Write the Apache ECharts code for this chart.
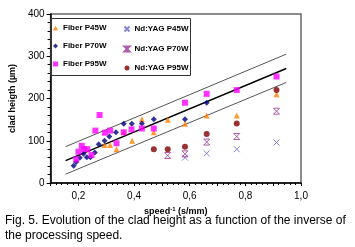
<!DOCTYPE html>
<html><head><meta charset="utf-8">
<script src="https://cdn.jsdelivr.net/npm/echarts@6/dist/echarts.min.js"></script>
<style>html,body{margin:0;padding:0;background:#fff}#c{width:355px;height:247px}</style>
</head><body><div id="c"></div>
<script>
const xTicks = [0.2, 0.4, 0.6, 0.8, 1.0];
const yTicks = [0, 100, 200, 300, 400];

const fiber45X = [0.294, 0.314, 0.337, 0.363, 0.393, 0.428, 0.471, 0.521, 0.583, 0.661, 0.769, 0.912];
const fiber45Y = [90, 90, 80, 121, 100, 151, 120, 150, 140, 160, 160, 210];

const fiber70X = [0.183, 0.192, 0.205, 0.218, 0.23, 0.243, 0.259, 0.273, 0.294, 0.311, 0.335, 0.363, 0.392, 0.428, 0.471, 0.583, 0.661];
const fiber70Y = [41, 50, 60, 69, 61, 61, 72, 92, 100, 110, 120, 140, 140, 141, 151, 151, 190];

const fiber95X = [0.192, 0.2, 0.212, 0.22, 0.232, 0.247, 0.261, 0.276, 0.295, 0.314, 0.337, 0.363, 0.391, 0.428, 0.471, 0.583, 0.661, 0.769, 0.912];
const fiber95Y = [56, 74, 88, 80, 80, 66, 124, 161, 119, 124, 94, 120, 127, 129, 129, 190, 211, 220, 252];

const yag45X = [0.583, 0.661, 0.769, 0.912];
const yag45Y = [60, 70, 80, 96];

const yag70X = [0.521, 0.583, 0.661, 0.769, 0.912];
const yag70Y = [65, 69, 97, 110, 170];

const yag95X = [0.471, 0.521, 0.583, 0.661, 0.769, 0.912];
const yag95Y = [80, 80, 86, 116, 141, 220];

const fitX = [0.154, 0.947];
const fitMid = [53, 271];
const fitUp = [86, 305];
const fitLow = [21, 238];

const pairs = (xs, ys) => xs.map((x, i) => [x, ys[i]]);

const XSYM = 'path://M0,0L10,10M10,0L0,10';
const HSYM = 'path://M0,0L10,0L0,10L10,10Z';

const chart = echarts.init(document.getElementById('c'));
const font = 'Liberation Sans, Arial, sans-serif';
const legendText = {fontFamily: font, fontSize: 8, fontWeight: 'bold', color: '#000'};
chart.setOption({
  animation: false,
  grid: {left: 43, right: 54, top: 14, bottom: 64, show: true, borderColor: '#666', borderWidth: 1.5},
  legend: [
    {data: ['Fiber P45W', 'Fiber P70W', 'Fiber P95W'], orient: 'vertical', left: 48, top: 19,
     itemWidth: 5, itemHeight: 5, itemGap: 10, textStyle: legendText},
    {data: ['Nd:YAG P45W', 'Nd:YAG P70W', 'Nd:YAG P95W'], orient: 'vertical', left: 117, top: 19,
     itemWidth: 5, itemHeight: 5, itemGap: 10, textStyle: legendText}
  ],
  graphic: [
    {type: 'rect', left: 48, top: 16, shape: {width: 140, height: 57}, style: {fill: 'none', stroke: '#333', lineWidth: 1}, z: 1},
    {type: 'text', left: 5, top: 215, style: {text: 'Fig. 5. Evolution of the clad height as a function of the inverse of', font: '12px ' + font, fill: '#000'}},
    {type: 'text', left: 5, top: 230, style: {text: 'the processing speed.', font: '12px ' + font, fill: '#000'}}
  ],
  xAxis: {
    type: 'value', min: 0.1, max: 1.0, interval: 0.1,
    name: 'speed{sup|-1} (s/mm)', nameLocation: 'middle', nameGap: 19,
    nameTextStyle: {fontFamily: font, fontSize: 9, fontWeight: 'bold', color: '#000',
      rich: {sup: {fontSize: 6, fontWeight: 'bold', verticalAlign: 'top', padding: [0, 0, 5, 0]}}},
    axisLine: {lineStyle: {color: '#000', width: 1.5}},
    axisTick: {show: true, length: 3, lineStyle: {color: '#000'}},
    minorTick: {show: true, splitNumber: 5, length: 2, lineStyle: {color: '#000'}},
    splitLine: {show: false},
    axisLabel: {fontFamily: font, fontSize: 10, color: '#000', margin: 8,
      formatter: v => xTicks.some(t => Math.abs(t - v) < 1e-6) ? v.toFixed(1).replace('.', ',') : ''}
  },
  yAxis: {
    type: 'value', min: 0, max: 400, interval: 100,
    name: 'clad heigth (µm)', nameLocation: 'middle', nameGap: 25,
    nameTextStyle: {fontFamily: font, fontSize: 9, fontWeight: 'bold', color: '#000'},
    axisLine: {show: true, lineStyle: {color: '#000', width: 1.5}},
    axisTick: {show: true, length: 4, lineStyle: {color: '#000'}},
    minorTick: {show: true, splitNumber: 5, length: 3, lineStyle: {color: '#000'}},
    splitLine: {show: false},
    axisLabel: {fontFamily: font, fontSize: 10, color: '#000', margin: 6,
      formatter: v => yTicks.includes(v) ? String(v) : ''}
  },
  series: [
    {type: 'line', data: pairs(fitX, fitUp), symbol: 'none', lineStyle: {color: '#555', width: 1}, z: 1, silent: true},
    {type: 'line', data: pairs(fitX, fitMid), symbol: 'none', lineStyle: {color: '#000', width: 1.5}, z: 1, silent: true},
    {type: 'line', data: pairs(fitX, fitLow), symbol: 'none', lineStyle: {color: '#555', width: 1}, z: 1, silent: true},
    {name: 'Fiber P45W', type: 'scatter', data: pairs(fiber45X, fiber45Y), symbol: 'triangle', symbolSize: 6, itemStyle: {color: '#ff8000'}},
    {name: 'Fiber P70W', type: 'scatter', data: pairs(fiber70X, fiber70Y), symbol: 'diamond', symbolSize: 6, itemStyle: {color: '#000080'}},
    {name: 'Fiber P95W', type: 'scatter', data: pairs(fiber95X, fiber95Y), symbol: 'rect', symbolSize: 6, itemStyle: {color: '#ff00ff'}},
    {name: 'Nd:YAG P45W', type: 'scatter', data: pairs(yag45X, yag45Y), symbol: XSYM, symbolSize: 6, itemStyle: {color: 'none', borderColor: '#6666cc', borderWidth: 1}},
    {name: 'Nd:YAG P70W', type: 'scatter', data: pairs(yag70X, yag70Y), symbol: HSYM, symbolSize: 6, itemStyle: {color: 'none', borderColor: '#993399', borderWidth: 1}},
    {name: 'Nd:YAG P95W', type: 'scatter', data: pairs(yag95X, yag95Y), symbol: 'circle', symbolSize: 6, itemStyle: {color: '#800000'}}
  ]
});
</script></body></html>
